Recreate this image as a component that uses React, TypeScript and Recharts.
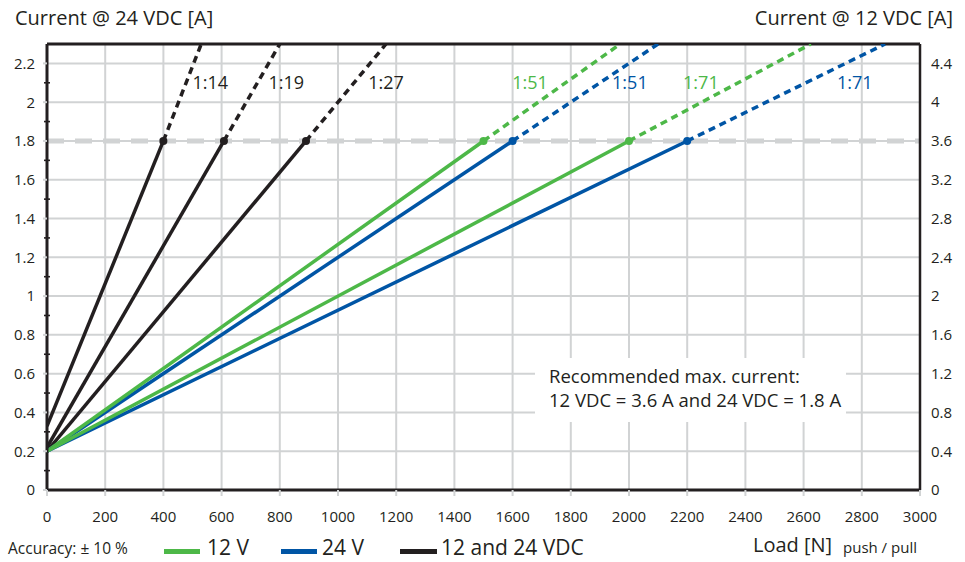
import React from 'react';
import {
  LineChart, Line, XAxis, YAxis, CartesianGrid, ReferenceLine, ReferenceDot,
} from 'recharts';

// ---- data ----
const X_TICKS = [0, 200, 400, 600, 800, 1000, 1200, 1400, 1600, 1800, 2000, 2200, 2400, 2600, 2800, 3000];
const LEFT_MAJOR = [0, 0.2, 0.4, 0.6, 0.8, 1, 1.2, 1.4, 1.6, 1.8, 2, 2.2];
const LEFT_MINOR = [0.1, 0.3, 0.5, 0.7, 0.9, 1.1, 1.3, 1.5, 1.7, 1.9, 2.1];
const RIGHT_TICKS = [0, 0.4, 0.8, 1.2, 1.6, 2, 2.4, 2.8, 3.2, 3.6, 4, 4.4];

const RATIOS = ['1:14', '1:19', '1:27', '1:51', '1:51', '1:71', '1:71'];
const GROUPS = ['both', 'both', 'both', '24V', '12V', '24V', '12V'];
const START_CURRENT = [0.33, 0.22, 0.2, 0.2, 0.2, 0.2, 0.2];
const LOAD_AT_MAX = [400, 608, 890, 1600, 1500, 2200, 2000];
const MAX_CURRENT = 1.8;
const LOAD_AT_TOP = [530, 800, 1165, 2100, 1970, 2880, 2625];
const TOP_CURRENT = 2.3;
const LABEL_LOAD = [561, 822, 1165, 2003, 1660, 2776, 2247];
const LABEL_CURRENT = 2.1;

const FONT = "'Open Sans', 'Noto Sans', sans-serif";
const BLACK = '#231f20';
const GREEN = '#4db848';
const BLUE = '#0055a5';
const GRID = '#d1d3d4';
const COLORS: Record<string, string> = { both: BLACK, '12V': GREEN, '24V': BLUE };

const LEFT_TICKS = [...LEFT_MAJOR, ...LEFT_MINOR].sort((a, b) => a - b);
const LEFT_GAP = 12;

const LeftTick = (props: any) => {
  const { x, y, payload } = props;
  const v = payload.value as number;
  const axisX = x + LEFT_GAP;
  const minor = Math.round(v * 10) % 2 === 1;
  if (minor) {
    return <line x1={axisX - 3} x2={axisX + 3} y1={y} y2={y} stroke={BLACK} strokeWidth={1.6} />;
  }
  return (
    <g>
      <line x1={axisX - 4} x2={axisX} y1={y} y2={y} stroke={GRID} strokeWidth={2} />
      <text x={x} y={y} dy="0.36em" textAnchor="end" fill={BLACK} fontSize={15} fontFamily={FONT}>
        {String(v)}
      </text>
    </g>
  );
};

const EndDot = (color: string) => (props: any) => {
  const { cx, cy, index } = props;
  if (index !== 1) return <g key={`d${index}`} />;
  return <circle key={`d${index}`} cx={cx} cy={cy} r={4} fill={color} stroke="none" />;
};

export default function App() {
  const solid = RATIOS.map((_, i) => [
    { x: 0, y: START_CURRENT[i] },
    { x: LOAD_AT_MAX[i], y: MAX_CURRENT },
  ]);
  const dashed = RATIOS.map((_, i) => [
    { x: LOAD_AT_MAX[i], y: MAX_CURRENT },
    { x: LOAD_AT_TOP[i], y: TOP_CURRENT },
  ]);
  const textStyle: React.CSSProperties = { position: 'absolute', color: BLACK, whiteSpace: 'nowrap', lineHeight: 1 };

  return (
    <div style={{ position: 'absolute', left: 0, top: 0, width: 965, height: 562, fontFamily: FONT, background: '#fff' }}>
      <LineChart width={965} height={562} margin={{ top: 44, right: 0, bottom: 42, left: 0 }}>
        <CartesianGrid yAxisId="right" stroke={GRID} strokeWidth={2} horizontal vertical />
        <XAxis
          type="number"
          dataKey="x"
          domain={[0, 3000]}
          ticks={X_TICKS}
          interval={0}
          height={30}
          axisLine={{ stroke: BLACK, strokeWidth: 3 }}
          tickLine={{ stroke: GRID, strokeWidth: 2 }}
          tickSize={6}
          tickMargin={15}
          tick={{ fill: BLACK, fontSize: 15, fontFamily: FONT }}
          allowDataOverflow
        />
        <YAxis
          yAxisId="left"
          type="number"
          domain={[0, 2.3]}
          ticks={LEFT_TICKS}
          interval={0}
          width={47}
          axisLine={{ stroke: BLACK, strokeWidth: 3 }}
          tickLine={false}
          tickSize={0}
          tickMargin={LEFT_GAP}
          tick={<LeftTick />}
          allowDataOverflow
        />
        <YAxis
          yAxisId="right"
          orientation="right"
          type="number"
          domain={[0, 4.6]}
          ticks={RIGHT_TICKS}
          interval={0}
          width={45}
          axisLine={{ stroke: BLACK, strokeWidth: 2.5 }}
          tickLine={false}
          tickSize={0}
          tickMargin={11}
          tick={{ fill: BLACK, fontSize: 15, fontFamily: FONT, textAnchor: 'start' }}
          allowDataOverflow
        />
        <ReferenceLine yAxisId="left" y={TOP_CURRENT} stroke={BLACK} strokeWidth={3} />
        <ReferenceLine yAxisId="left" y={MAX_CURRENT} stroke={GRID} strokeWidth={5} strokeDasharray="17 11" />
        {RATIOS.map((r, i) => (
          <Line
            key={`dash-${i}`}
            yAxisId="left"
            data={dashed[i]}
            dataKey="y"
            type="linear"
            stroke={COLORS[GROUPS[i]]}
            strokeWidth={3.5}
            strokeDasharray="7 5"
            dot={false}
            activeDot={false}
            isAnimationActive={false}
          />
        ))}
        {RATIOS.map((r, i) => (
          <Line
            key={`solid-${i}`}
            yAxisId="left"
            data={solid[i]}
            dataKey="y"
            type="linear"
            stroke={COLORS[GROUPS[i]]}
            strokeWidth={3.5}
            dot={EndDot(COLORS[GROUPS[i]])}
            activeDot={false}
            isAnimationActive={false}
          />
        ))}
        {RATIOS.map((r, i) => (
          <ReferenceDot
            key={`lab-${i}`}
            yAxisId="left"
            x={LABEL_LOAD[i]}
            y={LABEL_CURRENT}
            r={0}
            stroke="none"
            fill="none"
            label={{ value: r, position: 'center', fill: COLORS[GROUPS[i]], fontSize: 18, fontFamily: FONT }}
          />
        ))}
      </LineChart>

      <div style={{ ...textStyle, left: 15, top: 8, fontSize: 20 }}>Current @ 24 VDC [A]</div>
      <div style={{ ...textStyle, right: 12, top: 8, fontSize: 20 }}>Current @ 12 VDC [A]</div>

      <div style={{ position: 'absolute', left: 535, top: 358, width: 311, height: 64, background: '#fff' }}>
        <div style={{ ...textStyle, left: 14, top: 9, fontSize: 18.5 }}>Recommended max. current:</div>
        <div style={{ ...textStyle, left: 14, top: 33, fontSize: 18.5 }}>12 VDC = 3.6 A and 24 VDC = 1.8 A</div>
      </div>

      <div style={{ ...textStyle, left: 8, top: 541, fontSize: 15.5 }}>Accuracy: ± 10 %</div>
      <div style={{ position: 'absolute', left: 164, top: 549, width: 36, height: 5, background: GREEN }} />
      <div style={{ ...textStyle, left: 207, top: 537, fontSize: 21 }}>12 V</div>
      <div style={{ position: 'absolute', left: 281, top: 549, width: 36, height: 5, background: BLUE }} />
      <div style={{ ...textStyle, left: 322, top: 537, fontSize: 21 }}>24 V</div>
      <div style={{ position: 'absolute', left: 400, top: 549, width: 37, height: 5, background: BLACK }} />
      <div style={{ ...textStyle, left: 441, top: 537, fontSize: 21 }}>12 and 24 VDC</div>

      <div style={{ ...textStyle, left: 753, top: 535, fontSize: 20 }}>Load [N]</div>
      <div style={{ ...textStyle, left: 843, top: 540, fontSize: 15 }}>push / pull</div>
    </div>
  );
}
